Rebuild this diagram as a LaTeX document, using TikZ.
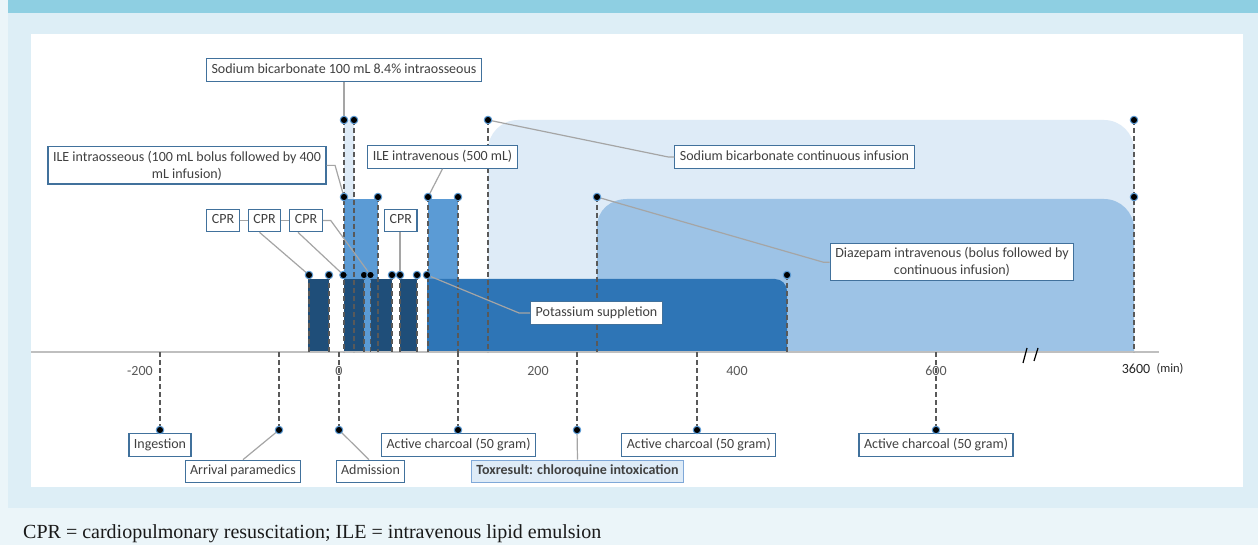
\documentclass[tikz,border=0pt]{standalone}
\usepackage{fontspec}
\setmainfont{Carlito}
\newfontfamily\footfont{Liberation Serif}
\definecolor{outerc}{HTML}{EBF5F9}
\definecolor{panelc}{HTML}{DDEEF6}
\definecolor{topbarc}{HTML}{8ECFE2}
\definecolor{sbcol}{HTML}{DEEBF7}
\definecolor{dzcol}{HTML}{9DC3E6}
\definecolor{kcol}{HTML}{2E75B6}
\definecolor{ilecol}{HTML}{5B9BD5}
\definecolor{cprcol}{HTML}{1F4E79}
\definecolor{axisc}{HTML}{BFBFBF}
\definecolor{dashc}{HTML}{595959}
\definecolor{leadc}{HTML}{A5A5A5}
\definecolor{boxc}{HTML}{41719C}
\definecolor{txt}{HTML}{404040}
\definecolor{axc}{HTML}{595959}
\definecolor{dotc}{HTML}{5B9BD5}
\definecolor{toxfill}{HTML}{DEEBF7}
\definecolor{toxc}{HTML}{7FA8D8}
\begin{document}
\begin{tikzpicture}[x=1pt,y=-1pt,
  box/.style={draw=boxc, line width=1.2pt, fill=white, text=txt, font=\fontsize{14}{17}\selectfont, inner xsep=5pt, inner ysep=4pt},
  one/.style={box, text height=10pt, text depth=3.5pt, inner ysep=4.5pt},
  two/.style={box, align=center},
  dotn/.style={circle, fill=black, draw=dotc, line width=1pt, inner sep=0pt, minimum size=7.5pt},
  vdash/.style={draw=dashc, line width=1.3pt, dash pattern=on 5pt off 3pt},
  lead/.style={draw=leadc, line width=1.2pt},
  axlab/.style={text=axc, font=\fontsize{14}{17}\selectfont, inner sep=0pt}
]
\useasboundingbox (0,0) rectangle (1258,545);
% backgrounds
\fill[outerc] (0,0) rectangle (1258,545);
\fill[panelc] (8,0) rectangle (1258,508);
\fill[topbarc] (8,0) rectangle (1258,13);
\fill[white] (31,34) rectangle (1243,487);
% regions
\fill[sbcol] (488,352) -- (488,150) .. controls (488,133.4) and (501.4,120) .. (518,120) -- (1104,120) .. controls (1120.6,120) and (1134,133.4) .. (1134,150) -- (1134,352) -- cycle;
\fill[dzcol] (597,352) -- (597,227) .. controls (597,210.4) and (610.4,199) .. (627,199) -- (1104,199) .. controls (1120.6,199) and (1134,212.4) .. (1134,229) -- (1134,352) -- cycle;
\fill[sbcol] (344,120) rectangle (354,352);
\fill[ilecol] (344,199) rectangle (378,352);
\fill[ilecol] (428,199) rectangle (458,352);
\fill[kcol] (427,352) -- (427,279) -- (775,279) .. controls (781.6,279) and (787,284.4) .. (787,291) -- (787,352) -- cycle;
\fill[cprcol] (308,279) rectangle (329,352);
\fill[cprcol] (343.5,279) rectangle (364,352);
\fill[cprcol] (370.5,279) rectangle (392,352);
\fill[cprcol] (400,279) rectangle (417,352);
% axis
\draw[axisc, line width=2pt] (31,352) -- (1159,352);
\coordinate (axl) at (0,352);
\node[axlab] (l1) at (140,371) {-200};
\node[axlab] (l2) at (339,371) {0};
\node[axlab] (l3) at (538,371) {200};
\node[axlab] (l4) at (737,371) {400};
\node[axlab] (l5) at (936,371) {600};
\node[axlab, text=black!85] (l6) at (1136,369) {3600};
\node[axlab, text=black!85, font=\fontsize{12.5}{15}\selectfont] (l7) at (1170,369) {(min)};
\draw[black, line width=1.2pt] (1023,363) -- (1027,348) (1034,361) -- (1038,348);
% dot coordinates (with dashed drop lines)
\foreach \n/\x/\y in {ca1/309/275, ca2/329/275, cb2/364/275, cc1/370.5/275, cc2/392/275, cd1/400/275, cd2/417/275,
  io2/378/197, sb1/344/120, sb2/354/120, iv1/428/197, iv2/458/197, k2/787/275,
  sc1/488/120, sc2/1134/120, dz1/597/197}
  {\coordinate (\n) at (\x,\y); \draw[vdash] (\n) -- (\n |- axl);}
% dots lying on an existing drop line
\coordinate (cb1) at (343.5,275);
\coordinate (io1) at (344,197);
\coordinate (k1) at (427,275);
\coordinate (dz2) at (1134,197);
\foreach \n/\x in {e1/160, e2/279, e3/339, e4/458, e5/577, e6/697, e7/936}
  {\coordinate (\n) at (\x,430); \draw[vdash] (\n |- axl) -- (\n);}
% boxes
\node[one] (sb100) at (344,70) {Sodium bicarbonate 100 mL 8.4\% intraosseous};
\node[two] (ileio) at (187,165.4) {ILE intraosseous (100 mL bolus followed by 400\\mL infusion)};
\node[one] (ileiv) at (442.5,157) {ILE intravenous (500 mL)};
\node[one] (cpr1) at (223,220.5) {CPR};
\node[one] (cpr2) at (264.5,220.5) {CPR};
\node[one] (cpr3) at (306,220.5) {CPR};
\node[one] (cpr4) at (400.8,220.5) {CPR};
\node[one] (sbci) at (794.5,157) {Sodium bicarbonate continuous infusion};
\node[two] (diaz) at (952,262.3) {Diazepam intravenous (bolus followed by\\continuous infusion)};
\node[one] (kpl) at (596.5,313) {Potassium suppletion};
\node[one] (ing) at (160,445) {Ingestion};
\node[one] (arr) at (243,471.5) {Arrival paramedics};
\node[one] (adm) at (370.5,471.5) {Admission};
\node[one] (ac1) at (458.5,445) {Active charcoal (50 gram)};
\node[one, fill=toxfill, draw=toxc, font=\fontsize{14}{17}\selectfont\bfseries] (tox) at (577.5,471.5) {Toxresult: chloroquine intoxication};
\node[one] (ac2) at (698.8,445) {Active charcoal (50 gram)};
\node[one] (ac3) at (936,445) {Active charcoal (50 gram)};
% leaders
\draw[lead] (sb100.south -| sb1) -- (sb1);
\draw[lead] (ileio.east) -- ++(8.5,0) -- (io1);
\draw[lead] (ileiv.south) -- (iv1);
\draw[lead] (cpr1.east) -- (cpr2.west);
\draw[lead] (cpr2.east) -- (cpr3.west);
\draw[lead] ([xshift=-5pt]cpr2.south) -- (ca1);
\draw[lead] ([xshift=-8pt]cpr3.south) -- (cb1);
\draw[lead] (cpr3.east) -- ++(8,0) -- (cc1);
\draw[lead] (cpr4.south -| cd1) -- (cd1);
\draw[lead] (sbci.west) -- ++(-6,0) -- (sc1);
\draw[lead] (diaz.west) -- ++(-6,0) -- (dz1);
\draw[lead] (kpl.west) -- ++(-11,0) -- (k1);
\draw[lead] (arr.north) -- (e2);
\draw[lead] ([xshift=-1.5pt]adm.north) -- (e3);
\draw[lead] (tox.north) -- (e5);
% dots
\foreach \n in {ca1,ca2,cb1,cb2,cc1,cc2,cd1,cd2,io1,io2,sb1,sb2,iv1,iv2,k1,k2,sc1,sc2,dz1,dz2,e1,e2,e3,e4,e5,e6,e7}
  {\node[dotn] (d\n) at (\n) {};}
% footer
\node[anchor=base west, inner sep=0pt, text=black!90, font=\footfont\fontsize{20}{24}\selectfont] (foot) at (23,538) {CPR = cardiopulmonary resuscitation; ILE = intravenous lipid emulsion};
\end{tikzpicture}
\end{document}
